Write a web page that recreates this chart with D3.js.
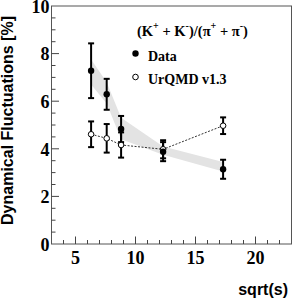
<!DOCTYPE html>
<html>
<head>
<meta charset="utf-8">
<script src="https://d3js.org/d3.v7.min.js"></script>
<style>
  body { margin: 0; background: #fff; }
</style>
</head>
<body>
<div id="chart"></div>
<script>
// collision energies sqrt(s) in GeV
var energies = [6.3, 7.6, 8.8, 12.3, 17.3];
// data: dynamical fluctuations [%] and stat errors
var dataVal = [7.28, 6.29, 4.83, 3.88, 3.14];
var dataErr = [1.15, 0.65, 0.55, 0.40, 0.40];
// systematic band around the data
var sysHigh = [7.75, 6.80, 5.30, 4.10, 3.45];
var sysLow  = [6.70, 5.90, 4.40, 3.75, 3.05];
// UrQMD v1.3
var urqmdVal = [4.61, 4.44, 4.16, 3.98, 4.97];
var urqmdErr = [0.54, 0.60, 0.53, 0.38, 0.35];

var xTicks = [5, 10, 15, 20];
var yTicks = [0, 2, 4, 6, 8, 10];

var W = 292, H = 300;
var svg = d3.select("#chart").append("svg")
    .attr("width", W).attr("height", H);

var x = d3.scaleLinear().domain([3, 23]).range([51.5, 291.5]);
var y = d3.scaleLinear().domain([0, 10]).range([244, 6]);

var serif = "'Liberation Serif', 'Times New Roman', serif";
var sans = "'Liberation Sans', Arial, sans-serif";

// systematic band
var band = energies.map(function (e, i) { return [x(e), y(sysHigh[i])]; })
    .concat(energies.slice().reverse().map(function (e, j) {
      var i = energies.length - 1 - j;
      return [x(e), y(sysLow[i])];
    }));
svg.append("path")
    .attr("d", "M" + band.join("L") + "Z")
    .style("fill", "#e3e3e3");

// frame
svg.append("rect")
    .attr("x", x(3)).attr("y", y(10))
    .attr("width", x(23) - x(3)).attr("height", y(0) - y(10))
    .style("fill", "none").style("stroke", "#555").style("stroke-width", 1);

// minor / major ticks x
d3.range(4, 23, 1).forEach(function (v) {
  var major = v % 5 === 0;
  svg.append("line")
      .attr("x1", x(v)).attr("x2", x(v))
      .attr("y1", y(0)).attr("y2", y(0) - (major ? 7.5 : 4))
      .style("stroke", "#444").style("stroke-width", 1);
});
// ticks y
d3.range(0.5, 10, 0.5).forEach(function (v) {
  var major = Math.abs(v % 2) < 1e-6;
  svg.append("line")
      .attr("x1", x(3)).attr("x2", x(3) + (major ? 7.5 : 4))
      .attr("y1", y(v)).attr("y2", y(v))
      .style("stroke", "#444").style("stroke-width", 1);
});

// tick labels
svg.selectAll("text.xl").data(xTicks).enter().append("text")
    .attr("class", "xl")
    .attr("x", function (d) { return x(d); })
    .attr("y", 264)
    .attr("text-anchor", "middle")
    .style("font-family", serif).style("font-weight", "bold").style("font-size", "18px")
    .text(function (d) { return d; });

svg.selectAll("text.yl").data(yTicks).enter().append("text")
    .attr("class", "yl")
    .attr("x", 49.5)
    .attr("y", function (d) { return y(d); })
    .attr("dy", "0.38em")
    .attr("text-anchor", "end")
    .style("font-family", serif).style("font-weight", "bold").style("font-size", "18px")
    .text(function (d) { return d; });

// axis titles
svg.append("text")
    .attr("transform", "translate(13.3,120.5) rotate(-90)")
    .attr("text-anchor", "middle")
    .style("font-family", sans).style("font-weight", "bold").style("font-size", "16px")
    .text("Dynamical Fluctuations [%]");

svg.append("text")
    .attr("x", 288).attr("y", 295)
    .attr("text-anchor", "end")
    .style("font-family", sans).style("font-weight", "bold").style("font-size", "16px")
    .text("sqrt(s)");

// UrQMD dashed line
svg.append("path")
    .datum(energies)
    .attr("d", d3.line()
        .x(function (d) { return x(d); })
        .y(function (d, i) { return y(urqmdVal[i]); }))
    .style("fill", "none").style("stroke", "#333")
    .style("stroke-width", 1).style("stroke-dasharray", "2,1.5");

function errorBars(vals, errs) {
  var g = svg.append("g").style("stroke", "#000").style("stroke-width", 2);
  energies.forEach(function (e, i) {
    var cx = x(e), lo = y(vals[i] - errs[i]), hi = y(vals[i] + errs[i]);
    g.append("line").attr("x1", cx).attr("x2", cx).attr("y1", lo).attr("y2", hi);
    g.append("line").attr("x1", cx - 3).attr("x2", cx + 3).attr("y1", lo).attr("y2", lo);
    g.append("line").attr("x1", cx - 3).attr("x2", cx + 3).attr("y1", hi).attr("y2", hi);
  });
}
errorBars(urqmdVal, urqmdErr);
errorBars(dataVal, dataErr);

svg.selectAll("circle.urqmd").data(energies).enter().append("circle")
    .attr("class", "urqmd")
    .attr("cx", function (d) { return x(d); })
    .attr("cy", function (d, i) { return y(urqmdVal[i]); })
    .attr("r", 2.8)
    .style("fill", "#fff").style("stroke", "#000").style("stroke-width", 1);

svg.selectAll("circle.data").data(energies).enter().append("circle")
    .attr("class", "data")
    .attr("cx", function (d) { return x(d); })
    .attr("cy", function (d, i) { return y(dataVal[i]); })
    .attr("r", 3.2)
    .style("fill", "#000");

// legend
var title = svg.append("text")
    .attr("x", 137).attr("y", 36)
    .style("font-family", serif).style("font-weight", "bold").style("font-size", "14.5px");
function part(t) { title.append("tspan").text(t); }
function sup(t) {
  title.append("tspan").attr("baseline-shift", "7").style("font-size", "10px").text(t);
}
part("(K"); sup("+"); part(" + K"); sup("-"); part(")/(\u03c0"); sup("+"); part(" + \u03c0"); sup("-"); part(")");

svg.append("circle").attr("cx", 135.5).attr("cy", 53.5).attr("r", 3.2).style("fill", "#000");
svg.append("circle").attr("cx", 135.5).attr("cy", 77).attr("r", 2.8)
    .style("fill", "#fff").style("stroke", "#000").style("stroke-width", 1);
svg.append("text").attr("x", 148).attr("y", 61)
    .style("font-family", serif).style("font-weight", "bold").style("font-size", "14px")
    .text("Data");
svg.append("text").attr("x", 148).attr("y", 84)
    .style("font-family", serif).style("font-weight", "bold").style("font-size", "14px")
    .text("UrQMD v1.3");
</script>
</body>
</html>
